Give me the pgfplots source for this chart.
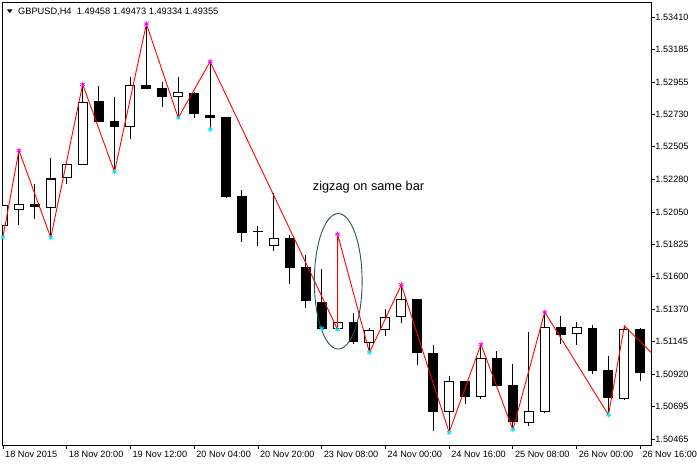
\documentclass[border=0pt]{standalone}
\usepackage{fontspec}
\setmainfont{Liberation Sans}
\usepackage{pgfplots}
\pgfplotsset{compat=1.18}
\usepackage{pgfplotstable}

\definecolor{zzred}{RGB}{255,0,0}
\definecolor{zzhigh}{RGB}{255,0,255}
\definecolor{zzlow}{RGB}{0,230,255}
\definecolor{ellcol}{RGB}{47,79,79}

% GBPUSD H4 candles, bar index i (one bar = 4 hours)
\pgfplotstableread{
i  O       H       L       C
0  1.51951 1.52097 1.51875 1.52097
1  1.52065 1.52479 1.51960 1.52104
3  1.52079 1.52424 1.51870 1.52283
4  1.52283 1.52382 1.52243 1.52382
5  1.52380 1.52940 1.52380 1.52818
8  1.52644 1.52991 1.52556 1.52936
11 1.52850 1.52991 1.52706 1.52887
17 1.51815 1.52183 1.51780 1.51866
21 1.51234 1.51894 1.51229 1.51283
23 1.51137 1.51243 1.51069 1.51227
24 1.51227 1.51375 1.51185 1.51319
25 1.51317 1.51542 1.51273 1.51442
28 1.50657 1.50907 1.50512 1.50873
30 1.50762 1.51127 1.50745 1.51033
33 1.50581 1.51215 1.50557 1.50664
34 1.50657 1.51352 1.50646 1.51250
36 1.51196 1.51285 1.51120 1.51248
39 1.50748 1.51255 1.50738 1.51236
}\bull

\pgfplotstableread{
i  O       H       L       C
2  1.52104 1.52243 1.52000 1.52083
6  1.52827 1.52931 1.52676 1.52676
7  1.52681 1.52854 1.52329 1.52641
9  1.52936 1.53361 1.52905 1.52905
10 1.52915 1.52959 1.52785 1.52850
12 1.52882 1.52889 1.52706 1.52731
13 1.52727 1.53098 1.52625 1.52704
14 1.52709 1.52709 1.52144 1.52153
15 1.52160 1.52206 1.51842 1.51905
16 1.51919 1.51954 1.51815 1.51912
18 1.51868 1.51891 1.51549 1.51662
19 1.51667 1.51750 1.51382 1.51426
20 1.51424 1.51653 1.51231 1.51231
22 1.51283 1.51345 1.51127 1.51141
26 1.51444 1.51444 1.50981 1.51064
27 1.51069 1.51125 1.50519 1.50655
29 1.50868 1.50873 1.50710 1.50759
31 1.51028 1.51078 1.50826 1.50835
32 1.50840 1.50986 1.50530 1.50585
35 1.51248 1.51326 1.51132 1.51189
37 1.51243 1.51264 1.50919 1.50939
38 1.50944 1.51048 1.50634 1.50752
40 1.51236 1.51243 1.50870 1.50926
}\bear

\pgfplotsset{
  bar/.style 2 args={draw=none, error bars/.cd, y dir=plus, y explicit,
    error mark=none, error bar style={draw=#1, line width=#2}},
}

\begin{document}
\begin{tikzpicture}
\begin{axis}[
  scale only axis, width=652pt, height=445pt,
  xmin=-0.0625, xmax=40.6875, ymin=1.504233, ymax=1.535142,
  axis line style={line width=0.8pt},
  tick style={black, line width=0.8pt},
  major tick length=4pt, tick align=outside,
  xtick pos=bottom, ytick pos=right, yticklabel pos=right,
  xtick={0,4,...,40},
  xticklabels={18 Nov 2015, 18 Nov 20:00, 19 Nov 12:00, 20 Nov 04:00,
    20 Nov 20:00, 23 Nov 08:00, 24 Nov 00:00, 24 Nov 16:00,
    25 Nov 08:00, 26 Nov 00:00, 26 Nov 16:00},
  ytick={1.50465,1.50695,1.50920,1.51145,1.51370,1.51600,1.51825,
    1.52050,1.52280,1.52505,1.52730,1.52955,1.53185,1.53410},
  yticklabels={1.50465,1.50695,1.50920,1.51145,1.51370,1.51600,1.51825,
    1.52050,1.52280,1.52505,1.52730,1.52955,1.53185,1.53410},
  ticklabel style={font=\fontsize{9.2}{11}\selectfont},
  xticklabel style={anchor=north west, inner sep=0pt, xshift=2pt, yshift=-1.5pt},
  yticklabel style={anchor=west, inner sep=0pt},
]
% wicks
\addplot[bar={black}{1pt}] table[x=i, y=L, y error expr=\thisrow{H}-\thisrow{L}] {\bull};
\addplot[bar={black}{1pt}] table[x=i, y=L, y error expr=\thisrow{H}-\thisrow{L}] {\bear};
% bodies
\addplot[bar={black}{10pt}] table[x=i, y=C, y error expr=\thisrow{O}-\thisrow{C}] {\bear};
\addplot[bar={black}{10pt}] table[x=i, y=O, y error expr=\thisrow{C}-\thisrow{O}] {\bull};
\addplot[bar={white}{8pt}] table[x=i, y expr=\thisrow{O}+0.00007,
  y error expr=\thisrow{C}-\thisrow{O}-0.00014] {\bull};

% zigzag
\addplot[zzred, line width=0.9pt] coordinates {
  (0,1.51875) (1,1.52479) (3,1.51870) (5,1.52940) (7,1.52329)
  (9,1.53361) (11,1.52706) (13,1.53098) (21,1.51229) (21,1.51894)
  (23,1.51069) (25,1.51542) (28,1.50512) (30,1.51127) (32,1.50530)
  (34,1.51352) (38,1.50634) (39,1.51255) (41,1.51035)
};
\addplot[only marks, mark=asterisk, mark size=2.6pt, zzhigh, line width=0.8pt] coordinates {
  (1,1.52479) (5,1.52940) (9,1.53361) (13,1.53098) (21,1.51894)
  (25,1.51542) (30,1.51127) (34,1.51352)
};
\addplot[only marks, mark=asterisk, mark size=2.6pt, zzlow, line width=0.8pt] coordinates {
  (0,1.51875) (3,1.51870) (7,1.52329) (11,1.52706) (13,1.52625)
  (20,1.51236) (21,1.51229) (23,1.51069) (28,1.50512) (32,1.50530)
  (38,1.50634)
};

\draw[ellcol, line width=0.9pt] (axis cs:21.04,1.51566) ellipse [x radius=24pt, y radius=68pt];
\node[anchor=base west, inner sep=0pt, font=\fontsize{12.8}{15}\selectfont]
  at (axis cs:19.44,1.52201) {zigzag on same bar};
\end{axis}
\fill ([shift={(5pt,-7.5pt)}]current axis.north west) -- ++(5.5pt,0) -- ++(-2.75pt,-3.6pt) -- cycle;
\node[anchor=base west, inner sep=0pt, font=\fontsize{9.3}{11}\selectfont]
  at ([shift={(16pt,-12.7pt)}]current axis.north west) {GBPUSD,H4\ \ 1.49458 1.49473 1.49334 1.49355};
\path[use as bounding box] ([shift={(-2pt,-18pt)}]current axis.south west)
  rectangle ([shift={(43pt,2pt)}]current axis.north east);
\end{tikzpicture}
\end{document}
